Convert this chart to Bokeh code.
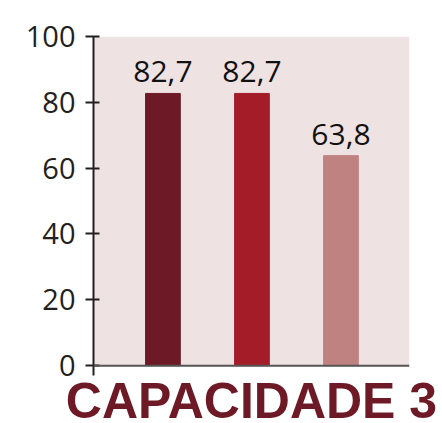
from bokeh.plotting import figure
from bokeh.models import ColumnDataSource, LabelSet, Span, BoxAnnotation, Title, FixedTicker, Range1d
from bokeh.core.properties import value
from bokeh.embed import file_html
from bokeh.resources import INLINE

# data
positions = [1, 2, 3]
values = [82.7, 82.7, 63.8]
value_labels = ["82,7", "82,7", "63,8"]
colors = ["#6d1a26", "#a51c29", "#c08280"]
y_ticks = [0, 20, 40, 60, 80, 100]
title_text = "CAPACIDADE 3"

src = ColumnDataSource(dict(x=positions, top=values, lab=value_labels, color=colors))

p = figure(width=442, height=423, output_backend="svg", toolbar_location=None,
           x_range=Range1d(0.22, 3.77), y_range=Range1d(-3, 100),
           x_axis_location=None, min_border_left=93, min_border_right=33,
           min_border_top=36, min_border_bottom=0)
p.outline_line_color = None
p.grid.visible = False
p.background_fill_color = "white"
p.border_fill_color = "white"

p.add_layout(BoxAnnotation(bottom=0, top=100, fill_color="#efe2e2", fill_alpha=1,
                           line_color=None, level="underlay"))

p.vbar(x="x", top="top", bottom=0, width=0.39, color="color", source=src)

p.add_layout(Span(location=0, dimension="width", line_color="#555555", line_width=2))

p.add_layout(LabelSet(x="x", y="top", text="lab", source=src, y_offset=11,
                      text_align="center", text_baseline="alphabetic",
                      text_font=value("Open Sans"), text_font_size="30px",
                      text_color="#111111"))

ax = p.yaxis[0]
ax.ticker = FixedTicker(ticks=y_ticks)
ax.axis_line_color = "#231f20"
ax.axis_line_width = 2
ax.major_tick_line_color = "#231f20"
ax.major_tick_line_width = 2
ax.major_tick_in = 6
ax.major_tick_out = 8
ax.minor_tick_line_color = None
ax.major_label_text_font = "Open Sans"
ax.major_label_text_font_size = "29px"
ax.major_label_text_color = "#231f20"
ax.major_label_standoff = 10

t = Title(text=title_text, align="center", text_font="Liberation Sans",
          text_font_style="bold", text_font_size="50px", text_color="#6d1a26",
          standoff=-10)
p.add_layout(t, "below")

open("out.html", "w").write(file_html(p, INLINE))
